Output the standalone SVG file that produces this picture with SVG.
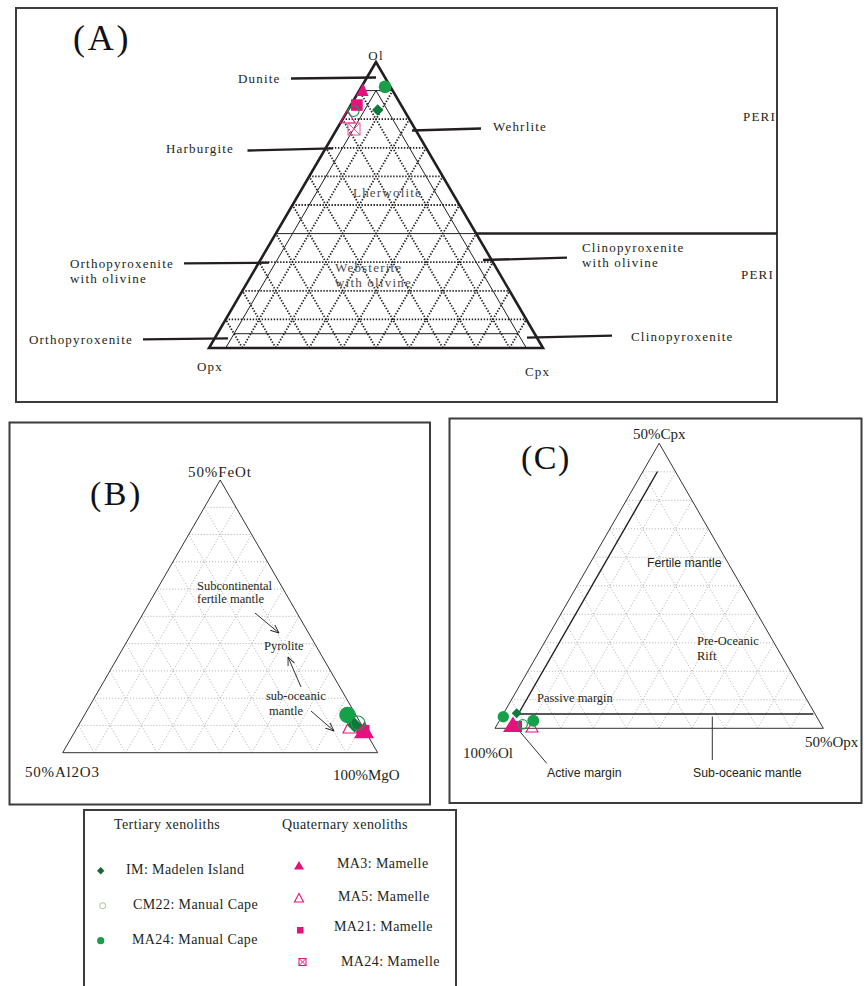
<svg xmlns="http://www.w3.org/2000/svg" width="867" height="986" viewBox="0 0 867 986">
<defs>
<style>
.frame{fill:none;stroke:#3c3c3c;stroke-width:2}
.tri{fill:none;stroke:#231f20;stroke-width:2.6;stroke-linejoin:miter}
.thin{fill:none;stroke:#231f20;stroke-width:1}
.dotA{fill:none;stroke:#231f20;stroke-width:1.8;stroke-dasharray:1.4 1.6}
.dotB{fill:none;stroke:#9a9a9a;stroke-width:0.8;stroke-dasharray:1 2}
.lead{fill:none;stroke:#231f20;stroke-width:2.3}
.lineBC{fill:none;stroke:#333;stroke-width:1}
.la{font-family:"Liberation Serif",serif;font-size:13px;letter-spacing:1.2px;fill:#231f20}
.lg{font-family:"Liberation Serif",serif;font-size:13px;letter-spacing:1.2px;fill:#4d4d4d}
.big{font-family:"Liberation Serif",serif;fill:#111}
.corner{font-family:"Liberation Serif",serif;font-size:15px;fill:#231f20}
.sb{font-family:"Liberation Serif",serif;font-size:12.5px;fill:#231f20}
.ss{font-family:"Liberation Sans",Arial,sans-serif;font-size:12.3px;fill:#231f20}
.leg{font-family:"Liberation Serif",serif;font-size:14px;letter-spacing:0.4px;fill:#231f20}
.mag{fill:#e5127d}
.magO{fill:none;stroke:#e5127d;stroke-width:1.1}
.grn{fill:#17a04a}
.dgr{fill:#0d7a3b}
.grnO{fill:none;stroke:#1a9a4a;stroke-width:1.2}
</style>
<marker id="arr" viewBox="0 0 10 10" refX="9.5" refY="5" markerWidth="9" markerHeight="9" markerUnits="userSpaceOnUse" orient="auto">
<path d="M0,1 L9.5,5 L0,9" fill="none" stroke="#231f20" stroke-width="1"/>
</marker>
</defs>
<rect width="867" height="986" fill="#fff"/>

<!-- ================= PANEL A ================= -->
<g id="panel-a">
<rect class="frame" x="16" y="8" width="761" height="394"/>
<text class="big" x="73" y="50" font-size="36" letter-spacing="2.8">(A)</text>
<g id="a-grid">
<path class="dotA" d="M225.7,319.4H526.3 M242.4,290.8H509.6 M259.1,262.2H492.9 M292.5,205H459.5 M309.2,176.4H442.8 M325.9,147.8H426.1 M342.6,119.2H409.4
M242.4,348L392.7,90.6 M275.8,348L409.4,119.2 M309.2,348L426.1,147.8 M342.6,348L442.8,176.4 M376,348L459.5,205 M409.4,348L476.2,233.6 M442.8,348L492.9,262.2 M476.2,348L509.6,290.8 M509.6,348L526.3,319.4
M509.6,348L359.3,90.6 M476.2,348L342.6,119.2 M442.8,348L325.9,147.8 M409.4,348L309.2,176.4 M376,348L292.5,205 M342.6,348L275.8,233.6 M309.2,348L259.1,262.2 M275.8,348L242.4,290.8 M242.4,348L225.7,319.4"/>
<path class="thin" d="M275.8,233.6H476.2 M359.3,90.6H392.7 M225.7,348L376,90.6 L526.3,348 M234,333.7H518"/>
</g>
<polygon class="tri" points="376,62 209,348 543,348"/>
<text class="la" x="376" y="60" font-size="17.5" text-anchor="middle" letter-spacing="1">Ol</text>
<text class="la" x="197" y="371" font-size="16" letter-spacing="1.6">Opx</text>
<text class="la" x="525" y="376" font-size="16" letter-spacing="1.6">Cpx</text>
<g id="a-labels">
<g id="lbl-dunite"><text class="la" x="238" y="83">Dunite</text></g>
<g id="lbl-harburgite"><text class="la" x="166" y="153">Harburgite</text></g>
<g id="lbl-wehrlite"><text class="la" x="493" y="131">Wehrlite</text></g>
<g id="lbl-lherwolite"><text class="lg" x="353" y="197">Lherwolite</text></g>
<g id="lbl-websterite"><text class="lg" x="335" y="272">Websterite</text><text class="lg" x="335" y="287">with olivine</text></g>
<g id="lbl-opx-ol"><text class="la" x="70" y="268">Orthopyroxenite</text><text class="la" x="70" y="283">with olivine</text></g>
<g id="lbl-opx"><text class="la" x="29" y="344">Orthopyroxenite</text></g>
<g id="lbl-cpx-ol"><text class="la" x="582" y="252">Clinopyroxenite</text><text class="la" x="582" y="267">with olivine</text></g>
<g id="lbl-cpx"><text class="la" x="631" y="341">Clinopyroxenite</text></g>
<g id="lbl-peri1"><text class="la" x="743" y="121">PERI</text></g>
<g id="lbl-peri2"><text class="la" x="741" y="279">PERI</text></g>
</g>
<g id="a-points">
<polygon class="mag" points="363.3,83.3 356,96 368.5,96"/>
<circle class="grn" cx="385" cy="86.7" r="6.3"/>
<rect class="mag" x="351" y="99.3" width="11.7" height="11.5"/>
<polygon class="magO" points="347.5,110 340,123 355,123"/>
<circle class="grnO" cx="353.5" cy="111" r="5.5"/>
<polygon class="dgr" points="377.7,104.3 383.4,110 377.7,115.7 372,110"/>
<g stroke="#e8559b" stroke-width="1" fill="none"><rect x="348" y="123" width="12" height="12"/><path d="M348,123L360,135M360,123L348,135"/></g>
</g>
</g>

<!-- ================= PANEL B ================= -->
<g id="panel-b">
<rect class="frame" x="9.5" y="422.5" width="420.5" height="382"/>
<text class="big" x="90" y="505" font-size="34" letter-spacing="2.5">(B)</text>
<path class="dotB" d="M78.45,725.4H361.95 M94.2,698.2H346.2 M109.95,670.9H330.45 M125.7,643.6H314.7 M141.45,616.35H298.95 M157.2,589.1H283.2 M172.95,561.8H267.45 M188.7,534.5H251.7 M204.45,507.3H235.95
M94.2,752.7L235.95,507.3 M125.7,752.7L251.7,534.5 M157.2,752.7L267.45,561.8 M188.7,752.7L283.2,589.1 M220.2,752.7L298.95,616.35 M251.7,752.7L314.7,643.6 M283.2,752.7L330.45,670.9 M314.7,752.7L346.2,698.2 M346.2,752.7L361.95,725.4
M346.2,752.7L204.45,507.3 M314.7,752.7L188.7,534.5 M283.2,752.7L172.95,561.8 M251.7,752.7L157.2,589.1 M220.2,752.7L141.45,616.35 M188.7,752.7L125.7,643.6 M157.2,752.7L109.95,670.9 M125.7,752.7L94.2,698.2 M94.2,752.7L78.45,725.4"/>
<polygon class="lineBC" points="220.2,480 62.7,752.7 377.7,752.7"/>
<text class="corner" x="188" y="477" letter-spacing="0.9">50%FeOt</text>
<text class="corner" x="25" y="777" letter-spacing="0.8">50%Al2O3</text>
<text class="corner" x="333" y="780">100%MgO</text>
<g id="lbl-subcont"><text class="sb" x="197" y="590">Subcontinental</text><text class="sb" x="197" y="603">fertile mantle</text></g>
<g id="lbl-pyrolite"><text class="sb" x="264" y="650">Pyrolite</text></g>
<g id="lbl-suboc"><text class="sb" x="266" y="700">sub-oceanic</text><text class="sb" x="269" y="715">mantle</text></g>
<g id="b-points">
<polygon class="mag" points="364.5,721 354,738.3 374,738.3"/>
<rect class="mag" x="357" y="725" width="12.5" height="12.5"/>
<polygon class="magO" points="350,719 343,733 357,733"/>
<circle class="grn" cx="347.5" cy="715" r="8.3"/>
<polygon class="dgr" points="354.5,717.5 362,725 354.5,732.5 347,725"/>
<circle class="grnO" cx="358" cy="723" r="7"/>
</g>
</g>

<!-- ================= PANEL C ================= -->
<g id="panel-c">
<rect class="frame" x="449.5" y="418.5" width="412" height="384.5"/>
<text class="big" x="521" y="469" font-size="34" letter-spacing="1.5">(C)</text>
<path class="dotB" d="M511.4,699.8H806.9 M527.8,671.3H790.5 M544.2,642.8H774.1 M560.7,614.3H757.6 M577.1,585.8H741.2 M593.5,557.3H724.8 M609.9,528.8H708.4 M626.3,500.3H692 M642.7,471.8H675.6
M527.8,728.3L675.6,471.8 M560.7,728.3L692,500.3 M593.5,728.3L708.4,528.8 M626.3,728.3L724.8,557.3 M659.15,728.3L741.2,585.8 M692,728.3L757.6,614.3 M724.8,728.3L774.1,642.8 M757.6,728.3L790.5,671.3 M790.5,728.3L806.9,699.8
M790.5,728.3L642.7,471.8 M757.6,728.3L626.3,500.3 M724.8,728.3L609.9,528.8 M692,728.3L593.5,557.3 M659.15,728.3L577.1,585.8 M626.3,728.3L560.7,614.3 M593.5,728.3L544.2,642.8 M560.7,728.3L527.8,671.3 M527.8,728.3L511.4,699.8"/>
<polygon class="lineBC" points="659.15,443.3 495,728.3 823.3,728.3"/>
<path fill="none" stroke="#231f20" stroke-width="1.4" d="M657.5,471.5L518.3,714H813.3"/>
<text class="corner" x="633" y="439">50%Cpx</text>
<text class="corner" x="463" y="758">100%Ol</text>
<text class="corner" x="805" y="747">50%Opx</text>
<g id="lbl-fertile"><text class="ss" x="647" y="567">Fertile mantle</text></g>
<g id="lbl-preoc"><text class="sb" x="697" y="645" font-size="13">Pre-Oceanic</text><text class="sb" x="697" y="660" font-size="13">Rift</text></g>
<g id="lbl-passive"><text class="sb" x="537" y="702" font-size="13">Passive margin</text></g>
<g id="lbl-active"><text class="ss" x="547" y="777">Active margin</text></g>
<g id="lbl-subocC"><text class="ss" x="693" y="777">Sub-oceanic mantle</text></g>
<g id="c-points">
<polygon class="mag" points="513,716.5 503,732 522,732"/>
<rect class="mag" x="511" y="721" width="11" height="11"/>
<polygon class="magO" points="532.5,722 526,732 538,732"/>
<circle class="grn" cx="503.3" cy="716.7" r="5.7"/>
<polygon class="dgr" points="516.7,708.3 521.7,713.3 516.7,718.3 511.7,713.3"/>
<circle class="grnO" cx="522.7" cy="724.3" r="4.7"/>
<circle class="grn" cx="533.3" cy="720.7" r="6"/>
</g>
</g>

<!-- ================= CONNECTORS ================= -->
<g id="connectors">
<path class="lead" d="M291,78.5L376,77.5 M247.5,150.5L333,148.3 M412,130.5L481,128.5 M184,263.3L269,262.7 M143,339.3L228,338.3 M483,260L567,257.7 M527,337.7L612,335.7"/>
<path fill="none" stroke="#231f20" stroke-width="2.5" d="M476,233.6H777"/>
<path class="lineBC" marker-end="url(#arr)" d="M255,613L279,633"/>
<path class="lineBC" marker-end="url(#arr)" d="M301,687L288,657"/>
<path class="lineBC" marker-end="url(#arr)" d="M311,711L334,731"/>
<path class="lineBC" d="M712.3,716.5V760 M520,731.7L546.7,763.3"/>
</g>

<!-- ================= LEGEND ================= -->
<g id="legend">
<rect class="frame" x="84" y="810" width="372" height="190"/>
<text class="leg" x="114" y="829">Tertiary xenoliths</text>
<text class="leg" x="282" y="829">Quaternary xenoliths</text>
<g id="leg-im"><polygon fill="#166b35" points="100.7,867 104.4,870.7 100.7,874.4 97,870.7"/><text class="leg" x="126" y="874" letter-spacing="0.3">IM: Madelen Island</text></g>
<g id="leg-cm22"><circle cx="102.7" cy="905.7" r="3" fill="none" stroke="#a9c47f" stroke-width="1"/><text class="leg" x="133" y="909" letter-spacing="0.3">CM22: Manual Cape</text></g>
<g id="leg-ma24c"><circle cx="100.7" cy="940.7" r="3.6" fill="#1d9a4a"/><text class="leg" x="132" y="944" letter-spacing="0.3">MA24: Manual Cape</text></g>
<g id="leg-ma3"><polygon class="mag" points="299,861 294,869.5 304,869.5"/><text class="leg" x="337" y="868">MA3: Mamelle</text></g>
<g id="leg-ma5"><polygon class="magO" points="299,893.5 294.5,902 303.5,902"/><text class="leg" x="338" y="901">MA5: Mamelle</text></g>
<g id="leg-ma21"><rect class="mag" x="297" y="927" width="6.5" height="6.5"/><text class="leg" x="334" y="931">MA21: Mamelle</text></g>
<g id="leg-ma24m"><g stroke="#d9177e" stroke-width="1" fill="none"><rect x="299" y="958.5" width="7" height="7"/><path d="M299,958.5L306,965.5M306,958.5L299,965.5"/></g><text class="leg" x="341" y="966">MA24: Mamelle</text></g>
</g>
</svg>
